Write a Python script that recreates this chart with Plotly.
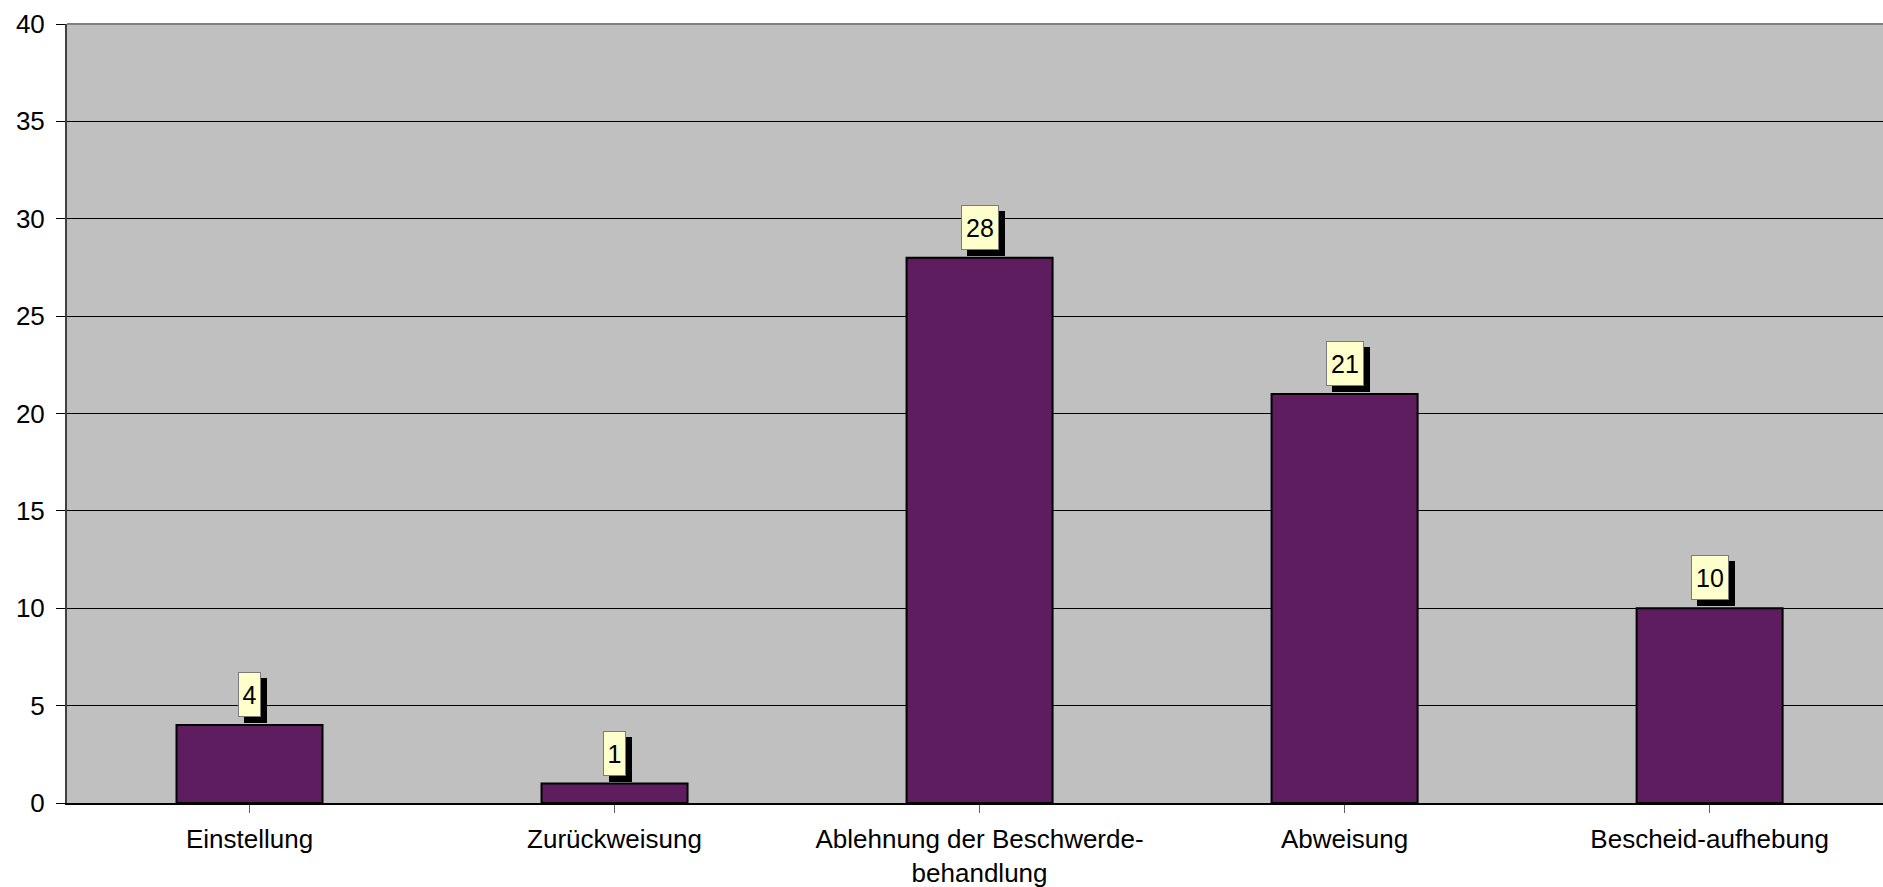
import plotly.graph_objects as go

categories = ["Einstellung", "Zurückweisung", "Ablehnung der Beschwerde-<br>behandlung", "Abweisung", "Bescheid-aufhebung"]
values = [4, 1, 28, 21, 10]
y_ticks = [0, 5, 10, 15, 20, 25, 30, 35, 40]

FONT = "Liberation Sans, Arial, sans-serif"

fig = go.Figure()
fig.add_trace(go.Bar(
    x=list(range(len(categories))), y=values, width=0.4,
    marker=dict(color="#5E1D5E", line=dict(color="#000000", width=2)),
    hoverinfo="skip",
))

anns = []
for i, v in enumerate(values):
    w = 19 if len(str(v)) == 1 else 34
    # shadow
    anns.append(dict(x=i, y=v, xref="x", yref="y", text=" ", showarrow=False,
                     yanchor="bottom", xanchor="center", width=w, height=41,
                     bgcolor="#000000", borderwidth=1, bordercolor="#000000", borderpad=1,
                     xshift=6, yshift=2, font=dict(size=25, family=FONT)))
    anns.append(dict(x=i, y=v, xref="x", yref="y", text=str(v), showarrow=False,
                     yanchor="bottom", xanchor="center", width=w, height=41,
                     bgcolor="#FFFFCC", borderwidth=1, bordercolor="#7a7a7a", borderpad=1,
                     xshift=0, yshift=8, font=dict(size=25, family=FONT, color="#000000")))

fig.update_layout(
    width=1883, height=887,
    margin=dict(l=67, r=0, t=24, b=84),
    paper_bgcolor="#FFFFFF", plot_bgcolor="#C0C0C0",
    showlegend=False,
    font=dict(family=FONT, color="#000000"),
    annotations=anns,
    shapes=[dict(type="line", xref="paper", yref="paper", x0=0, x1=1, y0=1, y1=1,
                 line=dict(color="#808080", width=2), layer="above")],
    xaxis=dict(
        range=[-0.5, 4.475], automargin=False,
        tickmode="array", tickvals=list(range(len(categories))), ticktext=categories,
        tickson="boundaries", ticks="outside", ticklen=8, tickcolor="#606060", tickwidth=1,
        showline=True, linecolor="#000000", linewidth=2,
        showgrid=False, zeroline=False,
        tickfont=dict(size=26, family=FONT, color="#000000"),
        ticklabelstandoff=4,
    ),
    yaxis=dict(
        range=[0, 40], tickmode="array", tickvals=y_ticks, automargin=False,
        ticks="outside", ticklen=9, tickcolor="#000000", tickwidth=1,
        showline=True, linecolor="#404040", linewidth=2,
        showgrid=True, gridcolor="#000000", gridwidth=1,
        zeroline=False,
        tickfont=dict(size=26, family=FONT, color="#000000"),
        ticklabelstandoff=6,
    ),
)

fig.write_html("out.html", config={"displayModeBar": False},
               post_script="document.body.style.margin='0';document.body.style.overflow='hidden';")
